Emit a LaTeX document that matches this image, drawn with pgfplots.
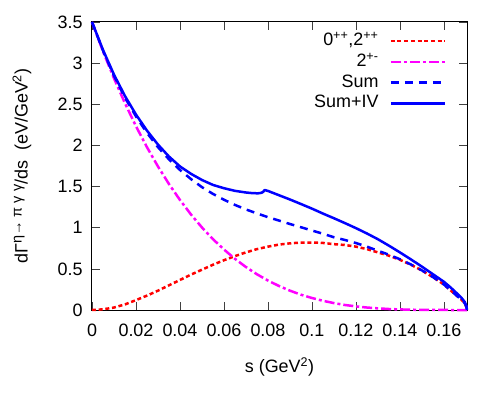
\documentclass[border=0pt]{standalone}
\usepackage{pgfplots}
\pgfplotsset{compat=1.18}
\usepackage{pgfplotstable}
\usepackage{fontspec}
\setmainfont{Liberation Sans}
\definecolor{gpred}{RGB}{255,0,0}
\definecolor{gpmag}{RGB}{255,0,255}
\definecolor{gpblue}{RGB}{0,0,255}

\pgfplotstableread{
s red mag sum
0 0 3.5 3.5
0.005 0.008 3.144 3.152
0.01 0.03 2.816 2.846
0.015 0.068 2.512 2.580
0.02 0.12 2.233 2.353
0.025 0.175 1.978 2.153
0.03 0.235 1.744 1.979
0.035 0.30 1.531 1.831
0.04 0.365 1.337 1.702
0.045 0.43 1.161 1.591
0.05 0.49 1.003 1.493
0.055 0.55 0.861 1.411
0.06 0.605 0.735 1.340
0.065 0.655 0.622 1.277
0.07 0.70 0.522 1.222
0.075 0.74 0.434 1.174
0.08 0.77 0.358 1.128
0.085 0.795 0.292 1.087
0.09 0.81 0.235 1.045
0.095 0.82 0.186 1.006
0.10 0.82 0.146 0.966
0.105 0.815 0.112 0.927
0.11 0.80 0.084 0.884
0.115 0.79 0.061 0.851
0.12 0.77 0.044 0.814
0.125 0.74 0.030 0.770
0.13 0.70 0.020 0.720
0.135 0.66 0.012 0.672
0.14 0.61 0.007 0.617
0.145 0.55 0.0035 0.5535
0.15 0.48 0.0017 0.4817
0.155 0.40 0.0008 0.4008
0.16 0.31 0.0002 0.3102
0.163 0.24 0 0.24
0.166 0.17 0 0.17
0.168 0.125 0 0.125
0.1695 0.08 0 0.08
0.1702 0.04 0 0.04
0.1705 0 0 0
}\datatab

\pgfplotstableread{
s v
0 3.5
0.005 3.16
0.01 2.86
0.015 2.60
0.02 2.375
0.025 2.18
0.03 2.01
0.035 1.865
0.04 1.745
0.045 1.655
0.05 1.58
0.055 1.52
0.06 1.48
0.065 1.448
0.07 1.428
0.073 1.42
0.0755 1.418
0.077 1.424
0.0778 1.435
0.0785 1.458
0.08 1.447
0.085 1.395
0.09 1.343
0.095 1.288
0.10 1.232
0.105 1.172
0.11 1.115
0.115 1.056
0.12 0.995
0.125 0.93
0.13 0.86
0.135 0.782
0.14 0.70
0.145 0.615
0.15 0.527
0.155 0.435
0.16 0.343
0.163 0.275
0.166 0.20
0.168 0.147
0.1695 0.097
0.1702 0.05
0.1705 0
}\ivtab

\begin{document}
\begin{tikzpicture}
\begin{axis}[
  name=ax,
  scale only axis,
  width=375bp, height=288bp,
  xmin=0, xmax=0.1705, ymin=0, ymax=3.5,
  xtick={0,0.02,0.04,0.06,0.08,0.1,0.12,0.14,0.16},
  xticklabels={0,0.02,0.04,0.06,0.08,0.1,0.12,0.14,0.16},
  ytick={0,0.5,1,1.5,2,2.5,3,3.5},
  yticklabels={0,0.5,1,1.5,2,2.5,3,3.5},
  scaled x ticks=false,
  tick align=inside,
  major tick length=8bp,
  every tick/.style={black!75, line width=0.7bp},
  axis line style={black, line width=1bp},
  font=\fontsize{18}{21}\selectfont,
  tick label style={font=\fontsize{18}{21}\selectfont},
  xticklabel style={yshift=-10bp},
  yticklabel style={xshift=-6bp},
  xlabel={s (GeV\textsuperscript{2})},
  ylabel={dΓ\raisebox{6bp}{\fontsize{14.5}{16}\selectfont η→\ π\ γ\ γ}/ds\ \ (eV/GeV\textsuperscript{2})},
  label style={font=\fontsize{18}{21}\selectfont},
  every axis x label/.style={at={(axis description cs:0.5,-0.198)}, anchor=center},
  every axis y label/.style={at={(axis description cs:-0.187,0.5)}, rotate=90, anchor=center},
  clip=false,
  legend plot pos=right,
  legend cell align=right,
  legend image code/.code={\draw[#1] (0bp,0bp) -- (54bp,0bp);},
  legend style={at={(axis description cs:0.944,0.963)}, anchor=north east,
    draw=none, fill=none, inner sep=0pt, outer sep=0pt,
    nodes={inner sep=0pt, text height=13bp, text depth=4bp},
    /tikz/column sep=11bp, /tikz/row sep=3.7bp,
    font=\fontsize{18}{21}\selectfont},
  every axis plot/.append style={line width=2.5bp, line join=round},
]
\addplot[gpred, dash pattern=on 4bp off 2.7bp] table[x=s, y=red] {\datatab};
\addlegendentry{0\textsuperscript{++},2\textsuperscript{++}}
\addplot[gpmag, dash pattern=on 10bp off 3bp on 3bp off 3bp] table[x=s, y=mag] {\datatab};
\addlegendentry{2\textsuperscript{+-}}
\addplot[gpblue, dash pattern=on 8bp off 6bp] table[x=s, y=sum] {\datatab};
\addlegendentry{Sum}
\addplot[gpblue] table[x=s, y=v] {\ivtab};
\addlegendentry{Sum+IV}
\end{axis}
\pgfresetboundingbox
\path[use as bounding box] ([shift={(-92bp,-88bp)}]ax.south west) rectangle ([shift={(31bp,22bp)}]ax.north east);
\end{tikzpicture}
\end{document}
